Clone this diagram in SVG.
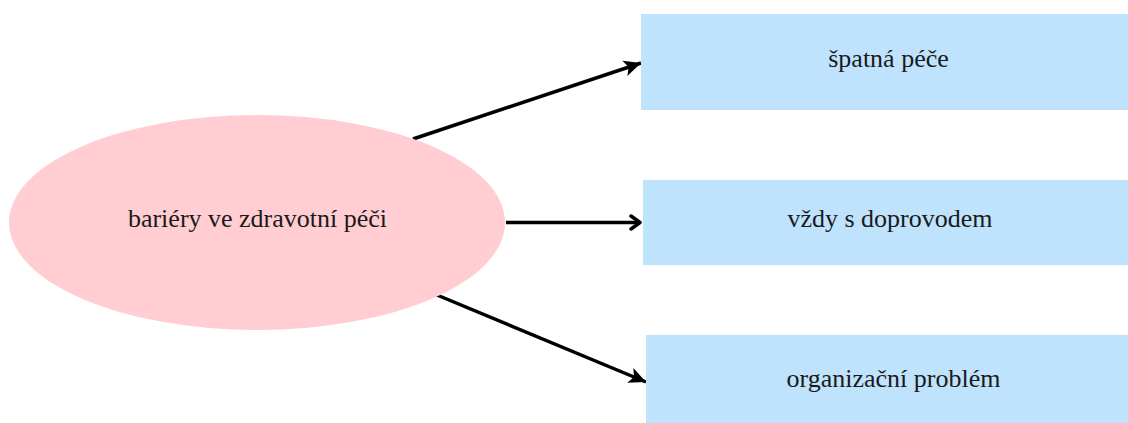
<svg xmlns="http://www.w3.org/2000/svg" width="1128" height="423" viewBox="0 0 1128 423">
  <style>
    .lbl { font-family: 'Liberation Serif', 'Times New Roman', 'DejaVu Serif', serif; font-size: 26px; fill: #1a1a1a; text-anchor: middle; }
    .box { fill: #BFE3FD; }
    .edge { stroke: #000; stroke-width: 3.5; fill: none; }
  </style>
  <defs>
    <marker id="tri" markerUnits="userSpaceOnUse" markerWidth="20" markerHeight="18" viewBox="-18 -9 20 18" refX="0" refY="0" orient="auto">
      <path d="M0,0 L-17,-8 L-13,0 L-17,8 Z" fill="#000"/>
    </marker>
    <marker id="chev" markerUnits="userSpaceOnUse" markerWidth="18" markerHeight="18" viewBox="-16 -9 18 18" refX="0" refY="0" orient="auto">
      <path d="M-9,-6.5 L0,0 L-9,6.5" fill="none" stroke="#000" stroke-width="3.5" stroke-linecap="round" stroke-linejoin="round"/>
    </marker>
  </defs>
  <rect width="1128" height="423" fill="#fff"/>
  <g id="connectors">
    <line class="edge" x1="413" y1="139" x2="641" y2="63" marker-end="url(#tri)"/>
    <line class="edge" x1="506" y1="222.5" x2="640" y2="222.5" marker-end="url(#chev)"/>
    <line class="edge" x1="437" y1="295" x2="646" y2="382" marker-end="url(#tri)"/>
  </g>
  <g id="node-root">
    <ellipse cx="257" cy="222.5" rx="248" ry="107.5" fill="#FFCDD2"/>
    <text class="lbl" x="257.5" y="227" font-family="Liberation Serif, serif">bariéry ve zdravotní péči</text>
  </g>
  <g id="node-spatna-pece">
    <rect class="box" x="641" y="14" width="494" height="96"/>
    <text class="lbl" x="888.5" y="67" font-family="Liberation Serif, serif">špatná péče</text>
  </g>
  <g id="node-vzdy-s-doprovodem">
    <rect class="box" x="643" y="180" width="494" height="85"/>
    <text class="lbl" x="890" y="227" font-family="Liberation Serif, serif">vždy s doprovodem</text>
  </g>
  <g id="node-organizacni-problem">
    <rect class="box" x="646" y="335" width="494" height="95"/>
    <text class="lbl" x="893.5" y="387" font-family="Liberation Serif, serif">organizační problém</text>
  </g>
</svg>
